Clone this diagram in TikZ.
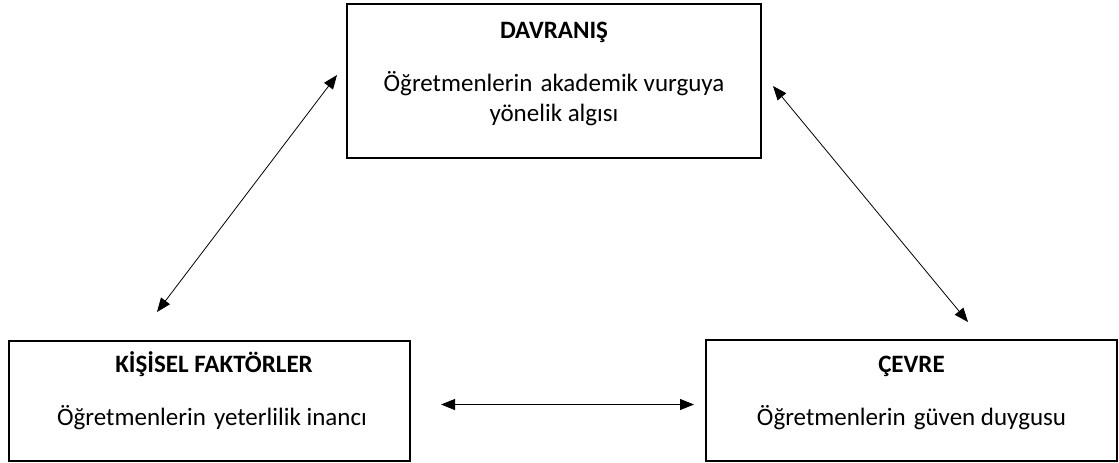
\documentclass[tikz,border=0pt]{standalone}
\usepackage{fontspec}
\setmainfont{Carlito}
\usetikzlibrary{arrows.meta}
\begin{document}
\begin{tikzpicture}[x=1pt,y=-1pt,
  box/.style={draw, line width=1.6pt, inner sep=0pt},
  head/.style={font=\fontsize{25}{30}\selectfont\bfseries, anchor=base, inner sep=0pt},
  body/.style={font=\fontsize{25}{30}\selectfont, anchor=base, inner sep=0pt},
  link/.style={{Triangle[length=14pt,width=11pt]}-{Triangle[length=14pt,width=11pt]}, line width=0.8pt}]
\useasboundingbox (0,0) rectangle (1119,463);

% the three boxes
\node[box, minimum width=414pt, minimum height=154pt] (beh) at (554,81) {};
\node[box, minimum width=401pt, minimum height=120pt] (pers) at (209.5,401) {};
\node[box, minimum width=411pt, minimum height=121pt] (env) at (911.5,400.5) {};

% behaviour
\node[head] (behT) at (554,38) {DAVRANIŞ};
\node[body] (behA) at (554,91) {Öğretmenlerin \kern2.5pt akademik vurguya};
\node[body] (behB) at (554,121) {yönelik algısı};

% personal factors
\node[head] (persT) at (214,372) {KİŞİSEL FAKTÖRLER};
\node[body] (persA) at (212,425) {Öğretmenlerin \kern2.5pt yeterlilik inancı};

% environment
\node[head] (envT) at (911.5,372) {ÇEVRE};
\node[body] (envA) at (911.5,425) {Öğretmenlerin \kern2.5pt güven duygusu};

% connector end points
\coordinate (pUp) at (337,75);
\coordinate (pDown) at (157,312);
\coordinate (eUp) at (773,86);
\coordinate (eDown) at (968,322);
\coordinate (hL) at (441,404.5);
\coordinate (hR) at (694,404.5);

\draw[link] (pDown) -- (pUp);
\draw[link] (eUp) -- (eDown);
\draw[link] (hL) -- (hR);
\end{tikzpicture}
\end{document}
